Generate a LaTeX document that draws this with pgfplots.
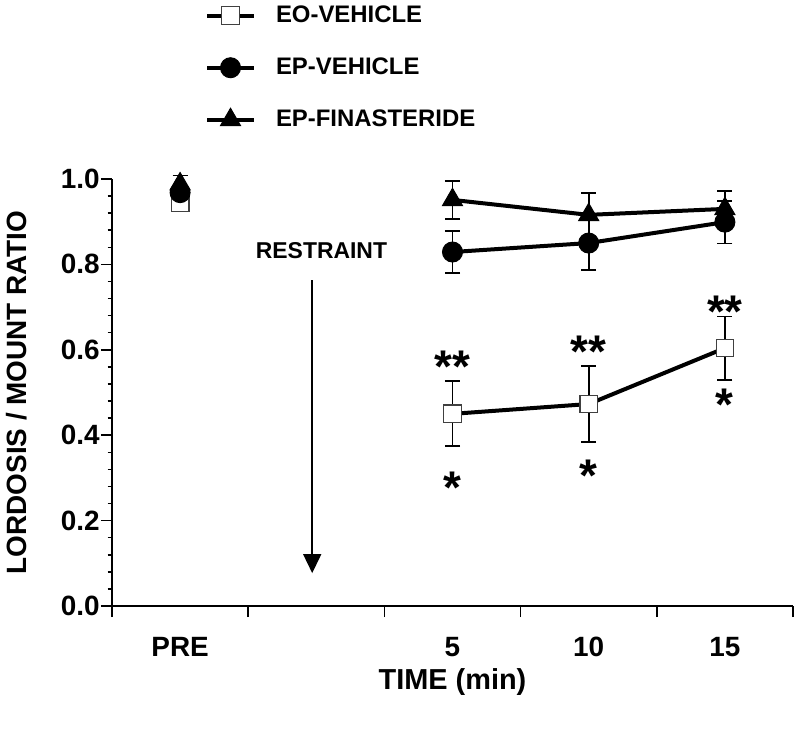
\documentclass[border=0pt]{standalone}
\usepackage{fontspec}
\setmainfont{Liberation Sans}
\usepackage{pgfplots}
\pgfplotsset{compat=1.18}
\usetikzlibrary{arrows.meta,calc}

\begin{document}
\begin{tikzpicture}[font=\bfseries]
\begin{axis}[
  scale only axis, width=340.5bp, height=213.5bp,
  xmin=0, xmax=5, ymin=0, ymax=1,
  axis lines=left, axis line style={-, line width=1bp},
  clip=false,
  xtick={0,1,2,3,4,5}, xticklabels={},
  extra x ticks={0.5,2.5,3.5,4.5}, extra x tick labels={PRE,5,10,15},
  extra x tick style={major tick length=0pt},
  xticklabel style={font=\fontsize{14}{14}\selectfont\bfseries, inner sep=0pt, anchor=north, yshift=-15.5bp},
  ytick={0,0.2,0.4,0.6,0.8,1}, minor y tick num=4,
  yticklabel style={font=\fontsize{14}{14}\selectfont\bfseries, inner sep=0pt, anchor=east, xshift=-0.5bp,
    /pgf/number format/fixed, /pgf/number format/fixed zerofill, /pgf/number format/precision=1,
    /pgf/number format/assume math mode=true},
  tick align=outside, major tick length=5.5bp, minor tick length=2.2bp,
  tick style={line width=0.75bp, black},
  xlabel={TIME (min)},
  xlabel style={font=\fontsize{14.5}{14.5}\selectfont\bfseries, inner sep=0pt, at={(axis description cs:0.5,0)}, anchor=north, yshift=-31bp},
  ylabel={LORDOSIS / MOUNT RATIO},
  ylabel style={font=\fontsize{14}{14}\selectfont\bfseries, inner sep=0pt, at={(axis description cs:-0.1248,0.5)}, anchor=south, rotate=0},
  legend style={at={(axis description cs:0.136,1.416)}, anchor=north west, draw=none, fill=none, inner sep=0pt,
    font=\fontsize{12}{12}\selectfont\bfseries, row sep=12.25bp, column sep=8bp, cells={anchor=west}},
  legend image code/.code={%
    \draw[#1, mark=none] (0bp,0bp) -- (23.5bp,0bp);
    \draw[#1] plot coordinates {(11.75bp,0bp)};},
  every axis plot/.append style={black, line width=2bp},
  error bars/error bar style={line width=0.8bp, black},
  error bars/error mark options={mark size=3.75bp, line width=0.9bp, black, rotate=90},
]
% EO-VEHICLE
\addplot+[black, mark=square*, mark size=4.4bp, mark options={fill=white, draw=black!75, line width=0.6bp},
  error bars/.cd, y dir=both, y explicit] coordinates {
  (2.5,0.450) +- (0,0.076)
  (3.5,0.473) +- (0,0.089)
  (4.5,0.604) +- (0,0.074)
};
\addlegendentry{EO-VEHICLE}
% EP-VEHICLE
\addplot+[black, mark=*, mark size=5bp, mark options={fill=black, draw=black, line width=0.5bp},
  error bars/.cd, y dir=both, y explicit] coordinates {
  (2.5,0.829) +- (0,0.050)
  (3.5,0.850) +- (0,0.063)
  (4.5,0.899) +- (0,0.050)
};
\addlegendentry{EP-VEHICLE}
% EP-FINASTERIDE
\addplot+[black, mark=triangle*, mark size=5.8bp, mark options={fill=black, draw=black, line width=0.5bp},
  error bars/.cd, y dir=both, y explicit] coordinates {
  (2.5,0.951) +- (0,0.045)
  (3.5,0.916) +- (0,0.051)
  (4.5,0.930) +- (0,0.042)
};
\addlegendentry{EP-FINASTERIDE}
% PRE values
\addplot+[forget plot, black, only marks, mark=square*, mark size=4.4bp, mark options={fill=white, draw=black!75, line width=0.6bp},
  error bars/.cd, y dir=both, y explicit] coordinates {(0.5,0.945) +- (0,0.015)};
\addplot+[forget plot, black, only marks, mark=*, mark size=5bp, mark options={fill=black, draw=black, line width=0.5bp},
  error bars/.cd, y dir=both, y explicit] coordinates {(0.5,0.968) +- (0,0.015)};
\addplot+[forget plot, black, only marks, mark=triangle*, mark size=5.8bp, mark options={fill=black, draw=black, line width=0.5bp},
  error bars/.cd, y dir=both, y explicit] coordinates {(0.5,0.988) +- (0,0.02)};

% significance markers
\node[font=\fontsize{23}{23}\selectfont\bfseries, inner sep=0pt, yshift=-4bp] at (axis cs:2.5,0.578) {**};
\node[font=\fontsize{23}{23}\selectfont\bfseries, inner sep=0pt, yshift=-4bp] at (axis cs:2.5,0.295) {*};
\node[font=\fontsize{23}{23}\selectfont\bfseries, inner sep=0pt, yshift=-4bp] at (axis cs:3.5,0.614) {**};
\node[font=\fontsize{23}{23}\selectfont\bfseries, inner sep=0pt, yshift=-4bp] at (axis cs:3.5,0.323) {*};
\node[font=\fontsize{23}{23}\selectfont\bfseries, inner sep=0pt, yshift=-4bp] at (axis cs:4.5,0.707) {**};
\node[font=\fontsize{23}{23}\selectfont\bfseries, inner sep=0pt, yshift=-4bp] at (axis cs:4.5,0.489) {*};

% restraint annotation
\node[font=\fontsize{11.5}{11.5}\selectfont\bfseries, inner sep=0pt] at (axis cs:1.538,0.8326) {RESTRAINT};
\draw[line width=0.75bp, -{Triangle[width=9bp,length=9.5bp]}] (axis cs:1.47,0.763) -- (axis cs:1.47,0.077);

\coordinate (O) at (rel axis cs:0,0);
\coordinate (T) at (rel axis cs:1,1);
\end{axis}
\pgfresetboundingbox
\path[use as bounding box] ($(O)+(-56bp,-62.5bp)$) rectangle ($(T)+(3.5bp,89.5bp)$);
\end{tikzpicture}
\end{document}
